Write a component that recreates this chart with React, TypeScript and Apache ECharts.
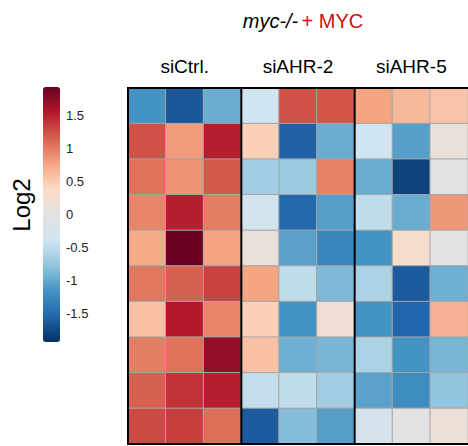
import React, { useEffect, useRef } from "react";
import * as echarts from "echarts";

const samples = [
  "siCtrl. 1", "siCtrl. 2", "siCtrl. 3",
  "siAHR-2 1", "siAHR-2 2", "siAHR-2 3",
  "siAHR-5 1", "siAHR-5 2", "siAHR-5 3",
];
const groups = ["siCtrl.", "siAHR-2", "siAHR-5"];
const genes = ["G1", "G2", "G3", "G4", "G5", "G6", "G7", "G8", "G9", "G10"];

const r1 = [-1.16, -1.65, -0.97, -0.39, 1.24, 1.22, 0.78, 0.64, 0.55];
const r2 = [1.24, 0.82, 1.52, 0.47, -1.59, -0.97, -0.39, -1.07, 0.12];
const r3 = [1.07, 0.87, 1.2, -0.68, -0.72, 0.97, -0.97, -1.8, 0.0];
const r4 = [0.95, 1.52, 1.0, -0.37, -1.52, -1.08, -0.49, -0.97, 0.85];
const r5 = [0.74, 1.93, 0.78, 0.1, -1.06, -1.28, -1.16, 0.3, -0.02];
const r6 = [1.03, 1.16, 1.32, 0.77, -0.49, -0.87, -0.62, -1.63, -0.95];
const r7 = [0.58, 1.55, 0.95, 0.47, -1.16, 0.2, -1.17, -1.55, 0.68];
const r8 = [1.0, 1.06, 1.71, 0.58, -0.95, -0.9, -0.62, -1.16, -0.9];
const r9 = [1.16, 1.4, 1.52, -0.48, -0.49, -0.68, -1.05, -1.22, -0.78];
const r10 = [1.28, 1.34, 1.08, -1.63, -0.84, -1.08, -0.29, 0.0, 0.14];
const rows = [r1, r2, r3, r4, r5, r6, r7, r8, r9, r10];

const colorTicks = [-1.5, -1, -0.5, 0, 0.5, 1, 1.5];
const groupStarts = [0, 3, 6];
const vMin = -1.94;
const vMax = 1.94;
const palette = [
  "#053061", "#2166ac", "#4393c3", "#92c5de", "#d1e5f0", "#e2e2e2",
  "#fddbc7", "#f4a582", "#d6604d", "#b2182b", "#67001f",
];

const FONT = "'Liberation Sans', Arial, sans-serif";

export default function App() {
  const ref = useRef<HTMLDivElement>(null);
  useEffect(() => {
    if (!ref.current) return;
    const chart = echarts.init(ref.current, undefined, { renderer: "svg" });
    const heat: number[][] = [];
    rows.forEach((row, ri) => row.forEach((v, ci) => heat.push([ci, ri, v])));

    chart.setOption({
      animation: false,
      textStyle: { fontFamily: FONT },
      grid: [
        { left: 128, top: 88, width: 340, height: 356 },
        { left: 43, top: 87, width: 17, height: 255 },
      ],
      xAxis: [
        {
          type: "category", gridIndex: 0, data: samples, show: false,
        },
        {
          type: "category", gridIndex: 0, data: groups, position: "top",
          axisLine: { show: false }, axisTick: { show: false },
          axisLabel: { fontSize: 19, color: "#000", margin: 12, fontFamily: FONT },
        },
        { type: "value", gridIndex: 1, show: false },
      ],
      yAxis: [
        {
          type: "category", gridIndex: 0, data: genes, inverse: true, show: false,
        },
        {
          type: "value", gridIndex: 1, min: vMin, max: vMax, position: "right",
          axisLine: { show: false }, axisTick: { show: false },
          splitLine: { show: false },
          axisLabel: {
            customValues: colorTicks, fontSize: 13, color: "#222", margin: 6,
            fontFamily: FONT,
          },
        },
      ],
      visualMap: {
        type: "continuous", min: vMin, max: vMax, seriesIndex: 0,
        left: 43, top: 87, itemWidth: 17, itemHeight: 255, padding: 0,
        calculable: false, hoverLink: false,
        inRange: { color: palette },
      },
      graphic: [
        {
          type: "text", x: 303, y: 21,
          style: {
            text: "{i|myc-/-} {r|+ MYC}", align: "center", verticalAlign: "middle",
            rich: {
              i: { fontStyle: "italic", fontSize: 20, fill: "#000", fontFamily: FONT },
              r: { fontSize: 20, fill: "#cc1111", fontFamily: FONT },
            },
          },
        },
        {
          type: "text", x: 21, y: 205, rotation: Math.PI / 2,
          style: {
            text: "Log2", align: "center", verticalAlign: "middle",
            fontSize: 24, fill: "#000", fontFamily: FONT,
          },
        },
      ],
      series: [
        {
          type: "heatmap", xAxisIndex: 0, yAxisIndex: 0, data: heat,
          itemStyle: { borderColor: "#a5a5a5", borderWidth: 1 },
          emphasis: { disabled: true },
        },
        {
          type: "custom", xAxisIndex: 0, yAxisIndex: 0, z: 10, silent: true,
          data: groupStarts.map((g) => [g, 0]),
          renderItem: (params: any, api: any) => {
            const ci = api.value(0);
            const cs = params.coordSys;
            const w = api.size([1, 0])[0];
            const x = api.coord([ci, 0])[0] - w / 2;
            const children: any[] = [
              {
                type: "line",
                shape: { x1: x, y1: cs.y, x2: x, y2: cs.y + cs.height },
                style: { stroke: "#000", lineWidth: 2 },
              },
            ];
            if (params.dataIndex === 0) {
              children.push(
                {
                  type: "line",
                  shape: { x1: cs.x - 1, y1: cs.y, x2: cs.x + cs.width + 1, y2: cs.y },
                  style: { stroke: "#000", lineWidth: 2 },
                },
                {
                  type: "line",
                  shape: {
                    x1: cs.x - 1, y1: cs.y + cs.height,
                    x2: cs.x + cs.width + 1, y2: cs.y + cs.height,
                  },
                  style: { stroke: "#000", lineWidth: 2 },
                },
              );
            }
            return { type: "group", children };
          },
        },
      ],
    });
    return () => chart.dispose();
  }, []);
  return (
    <div
      ref={ref}
      style={{ position: "fixed", left: 0, top: 0, width: 468, height: 446, background: "#fff" }}
    />
  );
}
